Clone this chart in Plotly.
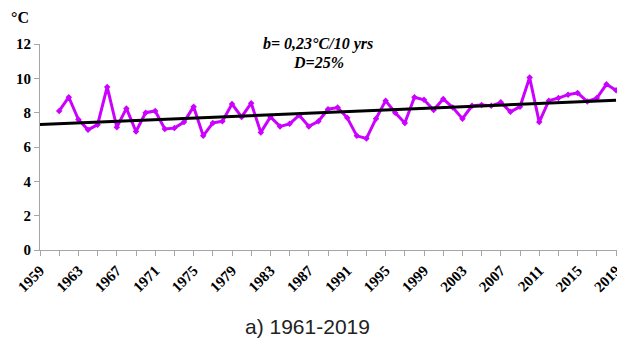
import numpy as np
import plotly.graph_objects as go

# Annual mean air temperature, 1961-2019
years = list(range(1961, 2020))
temps = [8.1, 8.9, 7.6, 7.0, 7.3, 9.5, 7.15, 8.25, 6.9, 8.0,
         8.1, 7.05, 7.1, 7.45, 8.35, 6.65, 7.4, 7.5, 8.5, 7.75,
         8.55, 6.85, 7.75, 7.2, 7.35, 7.85, 7.2, 7.5, 8.2, 8.3,
         7.7, 6.65, 6.5, 7.65, 8.7, 8.0, 7.4, 8.9, 8.75, 8.15,
         8.8, 8.3, 7.65, 8.4, 8.45, 8.4, 8.6, 8.05, 8.35, 10.05,
         7.45, 8.7, 8.85, 9.05, 9.15, 8.65, 8.85, 9.65, 9.3]
tick_years = list(range(1959, 2020, 4))
trend_years = [1959, 2019]

# linear trend fitted to the data
slope, intercept = np.polyfit(years, temps, 1)
trend_vals = [slope * y + intercept for y in trend_years]

serif = "Liberation Serif"
magenta = "#CC00FF"

fig = go.Figure()
fig.add_trace(go.Scatter(
    x=years, y=temps, mode="lines+markers",
    line=dict(color=magenta, width=3),
    marker=dict(symbol="diamond", size=5, color=magenta),
    showlegend=False, cliponaxis=False,
))
fig.add_trace(go.Scatter(
    x=trend_years, y=trend_vals, mode="lines",
    line=dict(color="black", width=3),
    showlegend=False,
))

fig.update_layout(
    width=617, height=344,
    margin=dict(l=40, r=0, t=44, b=94),
    plot_bgcolor="white", paper_bgcolor="white",
    font=dict(family=serif, color="black"),
)
fig.update_xaxes(
    range=[1959, 2019.1], automargin=False,
    tickvals=tick_years, ticktext=[str(y) for y in tick_years],
    tickangle=-45, tickfont=dict(family=serif, size=15, color="black", weight="bold"),
    ticklabeloverflow="allow",
    showline=True, linecolor="#a6a6a6", linewidth=1,
    ticks="outside", ticklen=5, tickcolor="#a6a6a6",
    minor=dict(dtick=2, tick0=1959, ticks="outside", ticklen=5, tickcolor="#a6a6a6"),
    showgrid=False, zeroline=False,
)
fig.update_yaxes(
    range=[0, 12], dtick=2, automargin=False,
    tickfont=dict(family=serif, size=15, color="black", weight="bold"),
    showline=True, linecolor="#a6a6a6", linewidth=1,
    ticks="outside", ticklen=5, tickcolor="#a6a6a6",
    showgrid=False, zeroline=False,
)

fig.add_annotation(
    text="<b>°C</b>", xref="paper", yref="paper", x=-0.035, y=1.13,
    xanchor="center", yanchor="middle", showarrow=False,
    font=dict(family=serif, size=16, color="black"),
)
fig.add_annotation(
    text="<b><i>b= 0,23°C/10 yrs</i></b>", xref="paper", yref="paper",
    x=0.482, y=1.0, xanchor="center", yanchor="middle", showarrow=False,
    font=dict(family=serif, size=16, color="black"),
)
fig.add_annotation(
    text="<b><i>D=25%</i></b>", xref="paper", yref="paper",
    x=0.482, y=0.908, xanchor="center", yanchor="middle", showarrow=False,
    font=dict(family=serif, size=16, color="black"),
)
fig.add_annotation(
    text="a) 1961-2019", xref="paper", yref="paper",
    x=0.464, y=-0.369, xanchor="center", yanchor="middle", showarrow=False,
    font=dict(family="Liberation Sans", size=21, color="#222222"),
)

# drop the page's default body margin so the figure fills the window
fig.write_html("out.html", config={"displayModeBar": False},
               post_script="document.body.style.margin='0';document.body.style.overflow='hidden';")
